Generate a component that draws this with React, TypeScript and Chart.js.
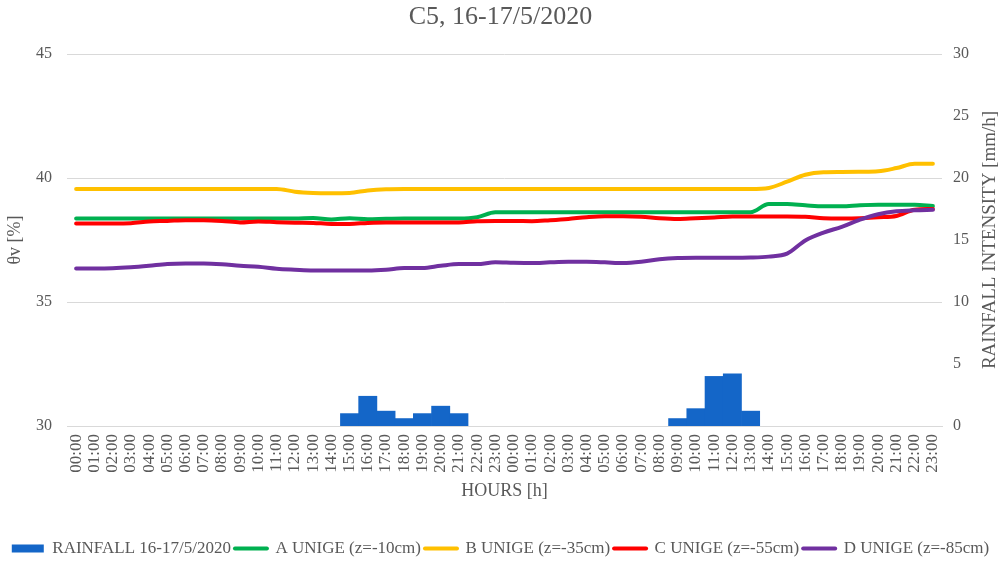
import React, { useEffect, useRef } from 'react';
import { Chart, registerables } from 'chart.js';

Chart.register(...registerables);

// ---------- data ----------
const HOURS_DAY = [
  '00:00', '01:00', '02:00', '03:00', '04:00', '05:00', '06:00', '07:00',
  '08:00', '09:00', '10:00', '11:00', '12:00', '13:00', '14:00', '15:00',
  '16:00', '17:00', '18:00', '19:00', '20:00', '21:00', '22:00', '23:00',
];
const CATEGORIES = [...HOURS_DAY, ...HOURS_DAY];

const RAINFALL = [
  null, null, null, null, null, null, null, null, null, null, null, null, null, null, null,
  1.0, 2.4, 1.2, 0.6, 1.0, 1.6, 1.0,
  null, null, null, null, null, null, null, null, null, null, null,
  0.6, 1.4, 4.0, 4.2, 1.2,
  null, null, null, null, null, null, null, null, null, null,
];

const A_UNIGE = [
  38.37, 38.37, 38.37, 38.37, 38.37, 38.37, 38.37, 38.37, 38.37, 38.37, 38.37, 38.37, 38.37,
  38.39, 38.33, 38.38, 38.34, 38.36, 38.37, 38.37, 38.37, 38.37, 38.42, 38.62,
  38.62, 38.62, 38.62, 38.62, 38.62, 38.62, 38.62, 38.62, 38.62, 38.62, 38.62, 38.62, 38.62, 38.62,
  38.95, 38.95, 38.90, 38.86, 38.86, 38.90, 38.92, 38.92, 38.92, 38.87,
];

const B_UNIGE = [
  39.56, 39.56, 39.56, 39.56, 39.56, 39.56, 39.56, 39.56, 39.56, 39.56, 39.56, 39.56,
  39.45, 39.40, 39.39, 39.40, 39.50, 39.55,
  39.56, 39.56, 39.56, 39.56, 39.56, 39.56, 39.56, 39.56, 39.56, 39.56,
  39.56, 39.56, 39.56, 39.56, 39.56, 39.56, 39.56, 39.56, 39.56, 39.56,
  39.60, 39.85, 40.13, 40.23, 40.24, 40.25, 40.27, 40.40, 40.57, 40.57,
];

const C_UNIGE = [
  38.17, 38.17, 38.17, 38.18, 38.25, 38.27, 38.30, 38.30, 38.27, 38.21,
  38.25, 38.22, 38.20, 38.19, 38.15, 38.15, 38.19, 38.21, 38.21, 38.21,
  38.21, 38.21, 38.26, 38.27, 38.27, 38.26, 38.30, 38.35, 38.42, 38.46,
  38.46, 38.44, 38.38, 38.35, 38.38, 38.41, 38.45, 38.45, 38.45, 38.45,
  38.44, 38.38, 38.37, 38.38, 38.42, 38.47, 38.72, 38.75,
];

const D_UNIGE = [
  36.35, 36.35, 36.36, 36.40, 36.46, 36.53, 36.55, 36.55, 36.52, 36.46,
  36.42, 36.34, 36.30, 36.27, 36.27, 36.27, 36.27, 36.30, 36.37, 36.37,
  36.46, 36.53, 36.53, 36.60, 36.58, 36.57, 36.60, 36.62, 36.62, 36.60,
  36.57, 36.62, 36.72, 36.77, 36.78, 36.78, 36.78, 36.79, 36.83, 36.95,
  37.48, 37.80, 38.03, 38.32, 38.54, 38.66, 38.70, 38.72,
];

const SERIES_LABELS = [
  'RAINFALL 16-17/5/2020',
  'A UNIGE (z=-10cm)',
  'B UNIGE (z=-35cm)',
  'C UNIGE (z=-55cm)',
  'D UNIGE (z=-85cm)',
];

const TITLE = 'C5, 16-17/5/2020';
const LEFT_TITLE = 'θv [%]';
const RIGHT_TITLE = 'RAINFALL INTENSITY [mm/h]';
const X_TITLE = 'HOURS [h]';
const LEFT_RANGE = [30, 45];
const RIGHT_RANGE = [0, 30];
const TICK_STEP = 5;

// ---------- style ----------
const FONT = "'Liberation Serif', 'Times New Roman', serif";
const TEXT = '#595959';
const GRID = '#d9d9d9';
const COLORS = ['#1466C8', '#00B050', '#FFC000', '#FF0000', '#7030A0'];

const rightTitlePlugin = {
  id: 'rightTitle',
  afterDraw(chart: any) {
    const { ctx, chartArea } = chart;
    const s = chart.scales.y1;
    ctx.save();
    ctx.font = `19px ${FONT}`;
    ctx.fillStyle = TEXT;
    ctx.textAlign = 'center';
    ctx.textBaseline = 'middle';
    ctx.translate(s.right - 11, (chartArea.top + chartArea.bottom) / 2);
    ctx.rotate(-Math.PI / 2);
    ctx.fillText(RIGHT_TITLE, 0, 0);
    ctx.restore();
  },
};

export default function App() {
  const ref = useRef<HTMLCanvasElement | null>(null);

  useEffect(() => {
    document.body.style.margin = '0';
    const canvas = ref.current;
    if (!canvas) return;
    const lineSets = [A_UNIGE, B_UNIGE, C_UNIGE, D_UNIGE];
    const chart = new Chart(canvas, {
      type: 'bar',
      data: {
        labels: CATEGORIES,
        datasets: [
          {
            type: 'bar',
            label: SERIES_LABELS[0],
            data: RAINFALL,
            yAxisID: 'y1',
            backgroundColor: COLORS[0],
            borderColor: COLORS[0],
            borderWidth: 0,
            categoryPercentage: 1,
            barPercentage: 1,
            order: 10,
          } as any,
          ...lineSets.map((d, i) => ({
            type: 'line',
            label: SERIES_LABELS[i + 1],
            data: d,
            yAxisID: 'y',
            borderColor: COLORS[i + 1],
            backgroundColor: COLORS[i + 1],
            borderWidth: 4,
            pointRadius: 0,
            pointHoverRadius: 0,
            cubicInterpolationMode: 'monotone',
            borderCapStyle: 'round',
            borderJoinStyle: 'round',
            fill: false,
            order: 4 - i,
          } as any)),
        ],
      },
      options: {
        responsive: false,
        animation: false,
        events: [],
        layout: { padding: { left: 0, right: 0, top: 0, bottom: -3 } },
        plugins: {
          title: {
            display: true,
            text: TITLE,
            color: TEXT,
            font: { family: FONT, size: 26, weight: 'normal' },
            padding: { top: 2, bottom: 20.8 },
          },
          legend: {
            display: true,
            position: 'bottom',
            labels: {
              usePointStyle: true,
              pointStyleWidth: 32,
              boxHeight: 8,
              padding: 4,
              color: TEXT,
              font: { family: FONT, size: 17 },
              generateLabels: (ch: any) =>
                ch.data.datasets.map((ds: any, i: number) => ({
                  text: ds.label,
                  datasetIndex: i,
                  fillStyle: ds.backgroundColor,
                  strokeStyle: ds.borderColor,
                  lineWidth: ds.type === 'bar' ? 0 : 4,
                  lineCap: 'round',
                  pointStyle: ds.type === 'bar' ? 'rect' : 'line',
                  hidden: false,
                  fontColor: TEXT,
                })),
            },
          },
          tooltip: { enabled: false },
        },
        scales: {
          x: {
            type: 'category',
            offset: true,
            grid: { display: false, drawTicks: false },
            border: { display: true, color: GRID, width: 1 },
            ticks: {
              autoSkip: false,
              minRotation: 90,
              maxRotation: 90,
              padding: 8,
              color: TEXT,
              font: { family: FONT, size: 17 },
            },
            title: {
              display: true,
              text: X_TITLE,
              color: TEXT,
              font: { family: FONT, size: 18 },
              padding: { top: 0, bottom: 34 },
            },
            afterFit: (s: any) => {
              s.height = 110;
            },
          },
          y: {
            position: 'left',
            min: LEFT_RANGE[0],
            max: LEFT_RANGE[1],
            ticks: {
              stepSize: TICK_STEP,
              padding: 15,
              color: TEXT,
              font: { family: FONT, size: 16 },
            },
            grid: { color: GRID, lineWidth: 1, drawTicks: false },
            border: { display: false },
            title: {
              display: true,
              text: LEFT_TITLE,
              color: TEXT,
              font: { family: FONT, size: 18 },
              padding: { top: 4, bottom: 0 },
            },
            afterFit: (s: any) => {
              s.width = 67;
            },
          },
          y1: {
            position: 'right',
            min: RIGHT_RANGE[0],
            max: RIGHT_RANGE[1],
            ticks: {
              stepSize: TICK_STEP,
              padding: 11,
              color: TEXT,
              font: { family: FONT, size: 16 },
            },
            grid: { display: false, drawTicks: false },
            border: { display: false },
            title: { display: false },
            afterFit: (s: any) => {
              s.width = 59;
            },
          },
        },
      } as any,
      plugins: [rightTitlePlugin],
    });
    return () => chart.destroy();
  }, []);

  return (
    <div style={{ position: 'absolute', left: 0, top: 0, width: 1001, height: 564, background: '#fff' }}>
      <canvas ref={ref} width={1001} height={564} />
    </div>
  );
}
